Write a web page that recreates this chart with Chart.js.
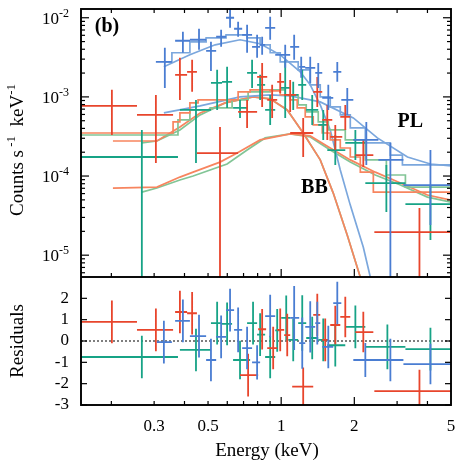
<!DOCTYPE html>
<html>
<head>
<meta charset="utf-8">
<script src="https://cdn.jsdelivr.net/npm/chart.js@4.4.1/dist/chart.umd.min.js"></script>
<style>
  body { margin: 0; background: #fff; }
  #wrap { position: relative; width: 463px; height: 463px; }
  canvas { position: absolute; left: 0; }
</style>
</head>
<body>
<div id="wrap">
  <canvas id="spec" width="463" height="277" style="top:0"></canvas>
  <canvas id="resid" width="463" height="186" style="top:277px"></canvas>
</div>
<script>
// ---- axis ticks / labels ----
const xMinorTicks = [0.2, 0.3, 0.4, 0.5, 0.6, 0.7, 0.8, 0.9, 3, 4];
const xMajorTicks = [1, 2];
const xTickLabels = [0.3, 0.5, 1, 2, 5];
const yTopExponents = [-5, -4, -3, -2];
const residTicks = [-3, -2, -1, 0, 1, 2];

// ---- spectrum data points (keV, counts/s/keV) ----
const blueE   = [0.332, 0.394, 0.459, 0.514, 0.566, 0.616, 0.665, 0.724, 0.796, 0.835, 0.901, 1.039, 1.131, 1.209, 1.317, 1.421, 1.563, 1.702, 1.871, 2.241, 2.815, 4.115];
const blueElo = [0.305, 0.366, 0.421, 0.491, 0.540, 0.593, 0.640, 0.691, 0.759, 0.819, 0.859, 0.945, 1.089, 1.186, 1.256, 1.381, 1.476, 1.638, 1.768, 1.981, 2.512, 3.185];
const blueEhi = [0.355, 0.421, 0.491, 0.540, 0.593, 0.640, 0.691, 0.759, 0.819, 0.859, 0.945, 1.089, 1.186, 1.256, 1.381, 1.476, 1.638, 1.768, 1.981, 2.512, 3.185, 5.0];
const blueF   = [2.77e-3, 5.12e-3, 5.27e-3, 3.82e-3, 5.75e-3, 1.0e-2, 7.26e-3, 6.09e-3, 4.29e-3, 4.55e-3, 7.46e-3, 3.40e-3, 4.29e-3, 2.40e-3, 2.33e-3, 2.01e-3, 9.7e-4, 2.07e-3, 9.16e-4, 2.86e-4, 1.60e-4, 7.69e-5];
const blueFlo = [1.30e-3, 3.61e-3, 3.94e-3, 2.13e-3, 4.29e-3, 7.46e-3, 5.75e-3, 3.61e-3, 3.12e-3, 3.40e-3, 5.27e-3, 2.33e-3, 2.94e-3, 1.74e-3, 1.50e-3, 1.30e-3, 6.84e-4, 1.55e-3, 5.92e-4, 1.38e-4, 1e-6, 2.40e-5];
const blueFhi = [4.17e-3, 6.65e-3, 7.26e-3, 4.97e-3, 7.05e-3, 1.34e-2, 8.9e-3, 8.15e-3, 6.09e-3, 5.75e-3, 1.03e-2, 4.55e-3, 6.09e-3, 3.21e-3, 3.21e-3, 2.69e-3, 1.42e-3, 2.77e-3, 1.30e-3, 4.83e-4, 2.62e-4, 2.13e-4];

const redE   = [0.201, 0.305, 0.383, 0.430, 0.560, 0.724, 0.835, 0.918, 0.991, 1.089, 1.232, 1.408, 1.548, 1.670, 1.836, 2.178, 3.708];
const redElo = [0.150, 0.255, 0.366, 0.410, 0.450, 0.665, 0.796, 0.876, 0.963, 1.029, 1.089, 1.355, 1.476, 1.592, 1.751, 2.020, 2.418];
const redEhi = [0.255, 0.359, 0.410, 0.450, 0.665, 0.796, 0.876, 0.963, 1.029, 1.153, 1.355, 1.476, 1.623, 1.784, 1.925, 2.395, 5.0];
const redF   = [7.69e-4, 5.92e-4, 1.90e-3, 2.07e-3, 1.95e-4, 6.46e-4, 1.79e-3, 9.16e-4, 1.55e-3, 1.06e-3, 3.50e-4, 1.16e-3, 5.11e-4, 3.12e-4, 5.58e-4, 1.84e-4, 1.95e-5];
const redFlo = [3.30e-4, 1.46e-4, 9.16e-4, 1.16e-3, 1e-6, 4.05e-4, 7.47e-4, 5.42e-4, 1.12e-3, 6.46e-4, 1.74e-4, 7.47e-4, 2.86e-4, 2.13e-4, 3.82e-4, 1.30e-4, 1e-6];
const redFhi = [1.23e-3, 1.06e-3, 3.12e-3, 2.94e-3, 4.17e-4, 9.16e-4, 2.69e-3, 1.42e-3, 2.01e-3, 1.64e-3, 5.42e-4, 1.79e-3, 7.92e-4, 4.42e-4, 7.92e-4, 2.86e-4, 3.94e-5];

const greenE   = [0.267, 0.446, 0.545, 0.599, 0.677, 0.759, 0.819, 0.901, 1.039, 1.121, 1.221, 1.342, 1.490, 1.670, 2.020, 2.710, 4.115];
const greenElo = [0.150, 0.383, 0.514, 0.571, 0.634, 0.724, 0.796, 0.859, 0.991, 1.069, 1.175, 1.268, 1.421, 1.548, 1.836, 2.220, 3.246];
const greenEhi = [0.376, 0.514, 0.571, 0.628, 0.724, 0.796, 0.859, 0.945, 1.089, 1.175, 1.268, 1.421, 1.563, 1.836, 2.220, 3.246, 5.0];
const greenF   = [1.74e-4, 6.84e-4, 1.50e-3, 1.55e-3, 7.26e-4, 2.01e-3, 1.42e-3, 6.84e-4, 1.30e-3, 1.06e-3, 1.42e-3, 6.84e-4, 4.42e-4, 2.13e-4, 2.62e-4, 8.15e-5, 4.42e-5];
const greenFlo = [1e-6, 1.46e-4, 6.84e-4, 7.26e-4, 5.42e-4, 1.30e-3, 9.16e-4, 4.42e-4, 5.42e-4, 6.84e-4, 9.16e-4, 4.42e-4, 2.86e-4, 1.38e-4, 1.60e-4, 3.50e-5, 1.55e-5];
const greenFhi = [3.82e-4, 9.16e-4, 2.20e-3, 2.40e-3, 9.16e-4, 2.94e-3, 1.90e-3, 1.06e-3, 2.94e-3, 1.55e-3, 2.20e-3, 1.06e-3, 6.84e-4, 3.30e-4, 3.82e-4, 1.38e-4, 7.69e-5];

// ---- folded models (step = total, bin left edges) ----
const blueStepE = [0.332, 0.355, 0.421, 0.491, 0.593, 0.724, 0.819, 0.901, 0.991, 1.175, 1.317, 1.448, 1.592, 1.751, 1.925, 2.220, 2.815, 3.155, 5.0];
const blueStepF = [2.77e-3, 3.61e-3, 4.97e-3, 5.58e-3, 6.09e-3, 5.58e-3, 4.55e-3, 3.61e-3, 2.77e-3, 2.20e-3, 1.42e-3, 1.0e-3, 7.47e-4, 5.92e-4, 4.05e-4, 2.62e-4, 1.84e-4, 1.38e-4, 1.38e-4];
const redStepE = [0.150, 0.359, 0.383, 0.421, 0.455, 0.665, 0.745, 0.901, 0.991, 1.089, 1.164, 1.256, 1.355, 1.476, 1.592, 1.751, 1.925, 2.117, 2.395, 5.0];
const redStepF = [3.50e-4, 4.83e-4, 6.27e-4, 8.39e-4, 9.16e-4, 1.16e-3, 1.23e-3, 1.19e-3, 1.06e-3, 9.16e-4, 7.26e-4, 5.58e-4, 4.42e-4, 3.50e-4, 2.86e-4, 2.26e-4, 1.74e-4, 1.12e-4, 6.27e-5, 6.27e-5];
const greenStepE = [0.150, 0.376, 0.421, 0.510, 0.628, 0.731, 0.901, 1.039, 1.175, 1.268, 1.421, 1.563, 1.836, 2.220, 2.710, 3.246, 5.0];
const greenStepF = [3.30e-4, 5.11e-4, 6.84e-4, 7.26e-4, 9.16e-4, 1.16e-3, 1.23e-3, 1.06e-3, 7.92e-4, 6.46e-4, 4.83e-4, 3.82e-4, 2.86e-4, 1.60e-4, 1.03e-4, 7.26e-5, 5.42e-5];

// ---- model components ----
const blueBbE = [0.329, 0.421, 0.535, 0.677, 0.819, 0.991, 1.198, 1.317, 1.448, 1.592, 1.751, 1.925, 2.178, 2.328, 2.5];
const blueBbF = [2.40e-3, 3.40e-3, 4.55e-3, 5.27e-3, 4.69e-3, 3.40e-3, 2.07e-3, 1.42e-3, 7.92e-4, 3.82e-4, 1.19e-4, 4.29e-5, 1.26e-5, 5.27e-6, 2e-6];
const bluePlE = [0.329, 0.464, 0.677, 0.901, 1.089, 1.448, 1.981, 2.488, 3.31, 4.115, 5.0];
const bluePlF = [6.27e-4, 7.69e-4, 1.0e-3, 1.06e-3, 1.03e-3, 8.65e-4, 5.42e-4, 3.03e-4, 1.74e-4, 1.42e-4, 1.34e-4];
const redBbE = [0.203, 0.308, 0.383, 0.464, 0.588, 0.766, 0.901, 1.059, 1.232, 1.448, 1.638, 1.871, 2.117, 2.3];
const redBbF = [2.77e-4, 2.77e-4, 4.17e-4, 6.27e-4, 8.39e-4, 1.0e-3, 9.44e-4, 6.84e-4, 3.50e-4, 1.60e-4, 6.09e-5, 1.79e-5, 5.27e-6, 2e-6];
const greenBbE = [0.267, 0.308, 0.383, 0.464, 0.588, 0.766, 0.901, 1.059, 1.232, 1.448, 1.638, 1.871, 2.117, 2.3];
const greenBbF = [2.62e-4, 2.77e-4, 3.82e-4, 5.92e-4, 8.39e-4, 1.0e-3, 9.44e-4, 6.84e-4, 3.50e-4, 1.60e-4, 6.09e-5, 1.79e-5, 5.27e-6, 2e-6];
const redPlE = [0.203, 0.308, 0.383, 0.434, 0.560, 0.659, 0.819, 1.089, 1.317, 1.592, 1.925, 2.44, 3.097, 4.0, 5.0];
const redPlF = [7.05e-5, 7.26e-5, 9.7e-5, 1.12e-4, 1.50e-4, 1.95e-4, 2.86e-4, 3.40e-4, 3.21e-4, 2.26e-4, 1.60e-4, 1.12e-4, 8.15e-5, 5.75e-5, 4.97e-5];
const greenPlE = [0.267, 0.308, 0.383, 0.434, 0.599, 0.724, 0.859, 1.089, 1.317, 1.592, 1.925, 2.44, 3.097, 4.0, 5.0];
const greenPlF = [6.27e-5, 7.05e-5, 8.9e-5, 1.0e-4, 1.42e-4, 2.13e-4, 3.03e-4, 3.40e-4, 3.12e-4, 2.13e-4, 1.50e-4, 1.03e-4, 7.69e-5, 5.42e-5, 4.69e-5];

// ---- residuals (sigma) ----
const blueRE   = [0.329, 0.394, 0.459, 0.514, 0.566, 0.616, 0.665, 0.724, 0.796, 0.901, 1.131, 1.221, 1.317, 1.408, 1.563, 1.702, 2.220, 2.815, 4.115];
const blueRElo = [0.308, 0.366, 0.421, 0.491, 0.540, 0.593, 0.640, 0.691, 0.759, 0.859, 1.089, 1.186, 1.256, 1.381, 1.476, 1.638, 1.981, 2.488, 3.185];
const blueREhi = [0.355, 0.421, 0.491, 0.540, 0.593, 0.640, 0.691, 0.759, 0.819, 0.945, 1.186, 1.256, 1.381, 1.448, 1.638, 1.768, 2.488, 3.185, 5.0];
const blueR    = [-0.05, 0.94, 0.23, -0.89, 0.19, 1.45, 0.52, -0.33, -1.0, 1.17, 1.08, -0.1, 0.66, 0.84, -0.28, 1.78, -0.89, -0.89, -1.08];
const blueRerr = [1.0, 1.0, 1.0, 1.0, 1.0, 1.0, 1.05, 1.0, 0.8, 1.0, 1.5, 1.2, 1.2, 1.0, 1.0, 1.0, 0.8, 1.0, 0.95];

const redRE   = [0.201, 0.305, 0.383, 0.430, 0.731, 0.835, 0.927, 0.991, 1.059, 1.232, 1.408, 1.518, 1.670, 1.836, 2.178, 3.708];
const redRElo = [0.150, 0.255, 0.366, 0.410, 0.677, 0.804, 0.876, 0.963, 1.029, 1.110, 1.355, 1.476, 1.592, 1.751, 2.020, 2.418];
const redREhi = [0.255, 0.359, 0.410, 0.450, 0.804, 0.867, 0.963, 1.029, 1.089, 1.355, 1.448, 1.563, 1.751, 1.925, 2.395, 5.0];
const redR    = [0.9, 0.52, 1.36, 1.3, -1.6, 0.55, -0.33, 0.52, 0.28, -2.14, 1.22, 0.05, 0.75, 1.13, 0.42, -2.35];
const redRerr = [1.0, 1.0, 1.0, 1.0, 1.0, 0.95, 1.0, 1.0, 1.0, 0.9, 1.0, 1.0, 0.9, 0.95, 0.95, 1.0];

const greenRE   = [0.267, 0.446, 0.545, 0.599, 0.677, 0.766, 0.819, 0.901, 0.963, 1.049, 1.121, 1.221, 1.342, 1.490, 1.670, 2.020, 2.736, 4.115];
const greenRElo = [0.150, 0.383, 0.514, 0.571, 0.634, 0.724, 0.796, 0.859, 0.945, 1.0, 1.069, 1.175, 1.268, 1.421, 1.548, 1.836, 2.220, 3.246];
const greenREhi = [0.376, 0.514, 0.571, 0.628, 0.745, 0.796, 0.859, 0.945, 0.99, 1.089, 1.175, 1.268, 1.421, 1.563, 1.836, 2.220, 3.246, 5.0];
const greenR    = [-0.75, -0.42, 0.84, 0.8, -0.89, 0.84, 0.3, -0.75, 0.5, 1.08, 0.05, 0.84, 0.14, 0.05, -0.2, 0.66, -0.28, -0.38];
const greenRerr = [1.0, 1.0, 1.0, 1.0, 0.9, 1.0, 1.0, 1.0, 1.0, 1.05, 1.0, 1.3, 1.0, 1.0, 1.0, 1.0, 1.05, 1.0];

// text notes placed in data coordinates
const notes = [
  { text: "(b)", e: 0.192, f: 7.7e-3 },
  { text: "PL", e: 3.40, f: 4.83e-4 },
  { text: "BB", e: 1.37, f: 7.05e-5 }
];

const BLUE = "#4a7dd2", RED = "#e8452c", GREEN = "#17a386";
const BLUE_M = "#7ba7dd", RED_M = "#f7855f", GREEN_M = "#82c596";
const FONT = "'Liberation Serif', 'Times New Roman', serif";

function crosses(E, Elo, Ehi, Y, Ylo, Yhi) {
  const pts = [];
  for (let i = 0; i < E.length; i++) {
    pts.push({ x: Elo[i], y: Y[i] }, { x: Ehi[i], y: Y[i] }, { x: E[i], y: null });
    pts.push({ x: E[i], y: Ylo[i] }, { x: E[i], y: Yhi[i] }, { x: E[i], y: null });
  }
  return pts;
}

function residCrosses(E, Elo, Ehi, R, err) {
  return crosses(E, Elo, Ehi, R, R.map((r, i) => r - err[i]), R.map((r, i) => r + err[i]));
}

function curve(E, F) {
  return E.map((e, i) => ({ x: e, y: F[i] }));
}

function dataSet(pts, color) {
  return { data: pts, borderColor: color, borderWidth: 1.8, pointRadius: 0, spanGaps: false, order: 0 };
}
function modelSet(pts, color, stepped) {
  return { data: pts, borderColor: color, borderWidth: 1.7, pointRadius: 0, stepped: stepped || false, order: 1 };
}

function tick(ctx, x1, y1, x2, y2) {
  ctx.beginPath(); ctx.moveTo(x1, y1); ctx.lineTo(x2, y2); ctx.stroke();
}

function xTicks(ctx, a, x, top, bottom) {
  xMinorTicks.forEach(v => {
    const px = x.getPixelForValue(v);
    if (bottom) tick(ctx, px, a.bottom, px, a.bottom - 4);
    if (top) tick(ctx, px, a.top, px, a.top + 4);
  });
  xMajorTicks.forEach(v => {
    const px = x.getPixelForValue(v);
    if (bottom) tick(ctx, px, a.bottom, px, a.bottom - 8);
    if (top) tick(ctx, px, a.top, px, a.top + 8);
  });
}

// rotated title with superscripts: parts = [[text, isSup], ...]
function rotatedTitle(ctx, parts, x, yc) {
  ctx.save();
  ctx.translate(x, yc);
  ctx.rotate(-Math.PI / 2);
  let total = 0;
  parts.forEach(p => { ctx.font = (p[1] ? "13px " : "19px ") + FONT; total += ctx.measureText(p[0]).width; });
  let cx = -total / 2;
  ctx.textAlign = "left";
  ctx.textBaseline = "alphabetic";
  parts.forEach(p => {
    ctx.font = (p[1] ? "13px " : "19px ") + FONT;
    ctx.fillText(p[0], cx, p[1] ? -8 : 0);
    cx += ctx.measureText(p[0]).width;
  });
  ctx.restore();
}

const specDeco = {
  id: "specDeco",
  afterDatasetsDraw(chart) {
    const ctx = chart.ctx, a = chart.chartArea, x = chart.scales.x, y = chart.scales.y;
    ctx.save();
    ctx.strokeStyle = "#000";
    ctx.fillStyle = "#000";
    ctx.lineWidth = 1.2;
    xTicks(ctx, a, x, true, true);
    for (let d = -6; d <= -2; d++) {
      for (let k = 1; k <= 9; k++) {
        const v = k * Math.pow(10, d);
        if (v < y.min || v > y.max) continue;
        const py = y.getPixelForValue(v);
        const len = k === 1 ? 8 : 4;
        tick(ctx, a.left, py, a.left + len, py);
        tick(ctx, a.right, py, a.right - len, py);
      }
    }
    ctx.lineWidth = 1.9;
    ctx.strokeRect(a.left, a.top, a.right - a.left, a.bottom - a.top);

    // y tick labels 10^n
    ctx.textBaseline = "alphabetic";
    ctx.textAlign = "left";
    yTopExponents.forEach(e => {
      const py = y.getPixelForValue(Math.pow(10, e));
      ctx.font = "17px " + FONT;
      const wb = ctx.measureText("10").width;
      ctx.font = "12px " + FONT;
      const ws = ctx.measureText(String(e)).width;
      const x0 = a.left - 12 - wb - ws;
      ctx.font = "17px " + FONT;
      ctx.fillText("10", x0, py + 6);
      ctx.font = "12px " + FONT;
      ctx.fillText(String(e), x0 + wb, py - 1);
    });

    // notes
    ctx.textAlign = "center";
    ctx.textBaseline = "middle";
    ctx.font = "bold 20px " + FONT;
    notes.forEach(n => ctx.fillText(n.text, x.getPixelForValue(n.e), y.getPixelForValue(n.f)));

    rotatedTitle(ctx, [["Counts s", false], [" -1", true], ["  keV", false], ["-1", true]], 23, 150);
    ctx.restore();
  }
};

const residDeco = {
  id: "residDeco",
  afterDatasetsDraw(chart) {
    const ctx = chart.ctx, a = chart.chartArea, x = chart.scales.x, y = chart.scales.y;
    ctx.save();
    ctx.strokeStyle = "#000";
    ctx.fillStyle = "#000";
    ctx.lineWidth = 1.2;
    xTicks(ctx, a, x, false, true);
    residTicks.forEach(v => {
      const py = y.getPixelForValue(v);
      tick(ctx, a.left, py, a.left + 6, py);
      tick(ctx, a.right, py, a.right - 6, py);
    });
    ctx.lineWidth = 1.9;
    ctx.strokeRect(a.left, a.top, a.right - a.left, a.bottom - a.top);

    ctx.font = "17px " + FONT;
    ctx.textAlign = "right";
    ctx.textBaseline = "middle";
    residTicks.forEach(v => ctx.fillText(String(v), a.left - 12, y.getPixelForValue(v)));

    ctx.textAlign = "center";
    ctx.textBaseline = "alphabetic";
    xTickLabels.forEach(v => ctx.fillText(String(v), x.getPixelForValue(v), a.bottom + 26));

    ctx.font = "19px " + FONT;
    ctx.fillText("Energy (keV)", (a.left + a.right) / 2 + 1, a.bottom + 51);
    rotatedTitle(ctx, [["Residuals", false]], 23, (a.top + a.bottom) / 2);
    ctx.restore();
  }
};

new Chart(document.getElementById("spec"), {
  type: "line",
  data: {
    datasets: [
      dataSet(crosses(blueE, blueElo, blueEhi, blueF, blueFlo, blueFhi), BLUE),
      dataSet(crosses(redE, redElo, redEhi, redF, redFlo, redFhi), RED),
      dataSet(crosses(greenE, greenElo, greenEhi, greenF, greenFlo, greenFhi), GREEN),
      modelSet(curve(blueStepE, blueStepF), BLUE_M, "before"),
      modelSet(curve(redStepE, redStepF), RED_M, "before"),
      modelSet(curve(greenStepE, greenStepF), GREEN_M, "before"),
      modelSet(curve(blueBbE, blueBbF), BLUE_M),
      modelSet(curve(bluePlE, bluePlF), BLUE_M),
      modelSet(curve(redBbE, redBbF), RED_M),
      modelSet(curve(greenBbE, greenBbF), GREEN_M),
      modelSet(curve(redPlE, redPlF), RED_M),
      modelSet(curve(greenPlE, greenPlF), GREEN_M)
    ]
  },
  options: {
    responsive: false,
    animation: false,
    layout: { padding: { left: 81, right: 12, top: 9, bottom: 0 } },
    plugins: { legend: { display: false }, tooltip: { enabled: false } },
    scales: {
      x: { type: "logarithmic", min: 0.15, max: 5, display: false },
      y: { type: "logarithmic", min: 5.3e-6, max: 1.29e-2, display: false }
    }
  },
  plugins: [specDeco]
});

new Chart(document.getElementById("resid"), {
  type: "line",
  data: {
    datasets: [
      { data: [{ x: 0.15, y: 0 }, { x: 5, y: 0 }], borderColor: "#000", borderWidth: 1, borderDash: [2, 2], pointRadius: 0, order: 2 },
      dataSet(residCrosses(blueRE, blueRElo, blueREhi, blueR, blueRerr), BLUE),
      dataSet(residCrosses(redRE, redRElo, redREhi, redR, redRerr), RED),
      dataSet(residCrosses(greenRE, greenRElo, greenREhi, greenR, greenRerr), GREEN)
    ]
  },
  options: {
    responsive: false,
    animation: false,
    layout: { padding: { left: 81, right: 12, top: 0, bottom: 58 } },
    plugins: { legend: { display: false }, tooltip: { enabled: false } },
    scales: {
      x: { type: "logarithmic", min: 0.15, max: 5, display: false },
      y: { type: "linear", min: -3, max: 3, display: false }
    }
  },
  plugins: [residDeco]
});
</script>
</body>
</html>
